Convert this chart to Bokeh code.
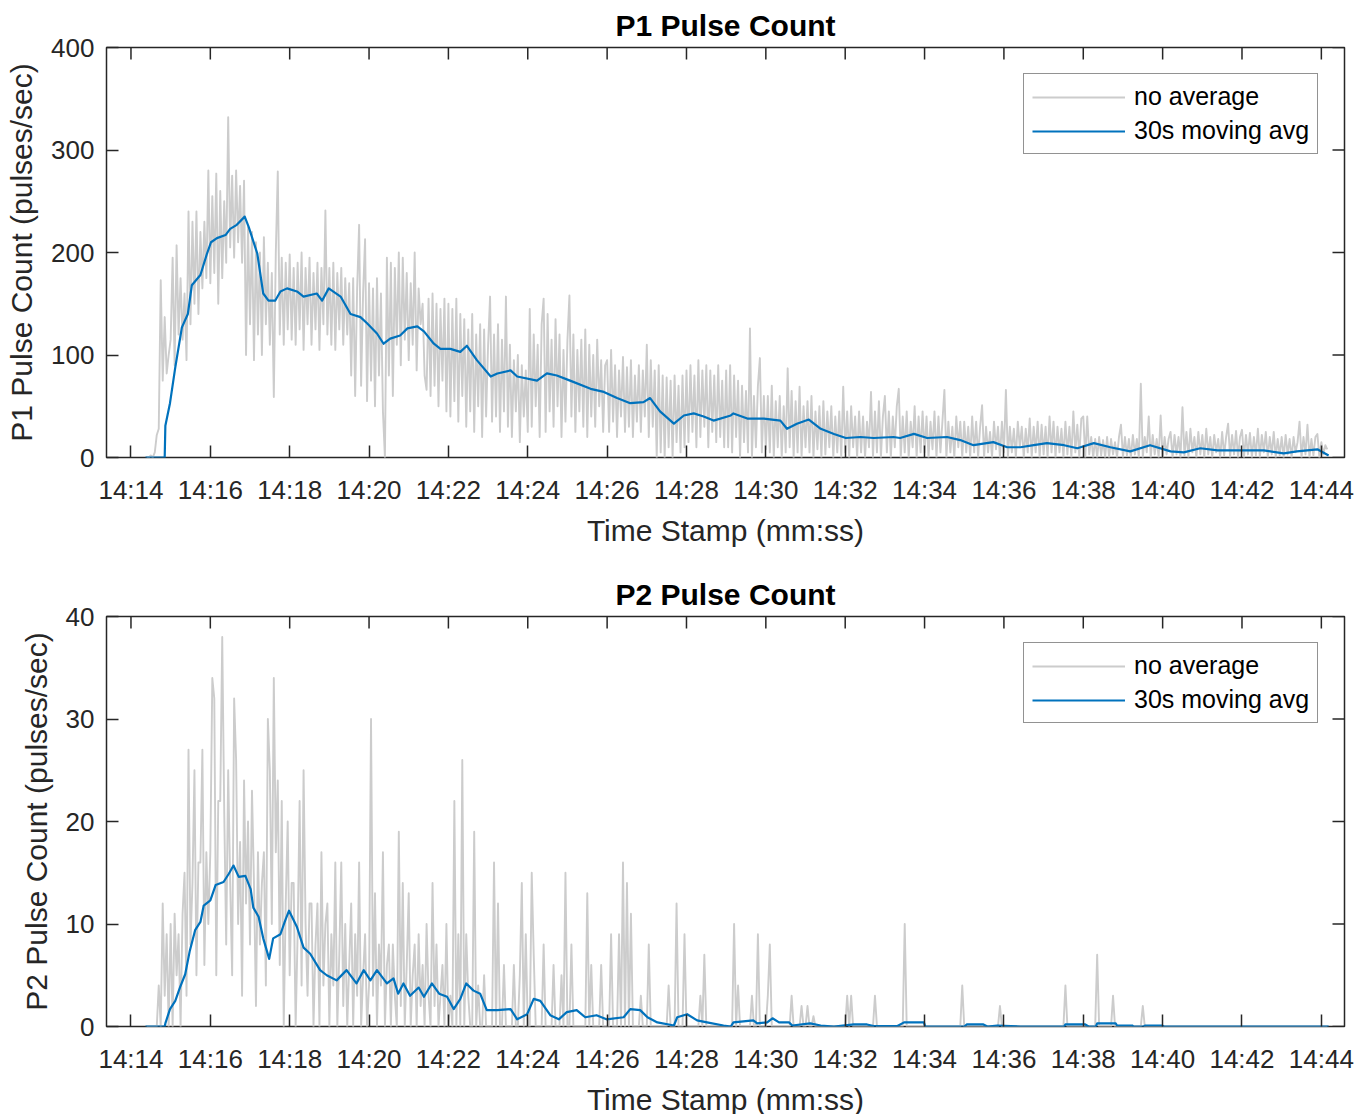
import math
from bokeh.plotting import figure
from bokeh.models import Range1d, FixedTicker, Legend, LegendItem
from bokeh.layouts import column
from bokeh.embed import file_html
from bokeh.resources import INLINE

# ---------------- data ----------------
# x in seconds after 14:14:00
TICK_SECONDS = [0, 120, 240, 360, 480, 600, 720, 840, 960, 1080, 1200, 1320, 1440, 1560, 1680, 1800]
TICK_LABELS = ["14:14", "14:16", "14:18", "14:20", "14:22", "14:24", "14:26", "14:28",
               "14:30", "14:32", "14:34", "14:36", "14:38", "14:40", "14:42", "14:44"]
X_LIMITS = [-37, 1835]

RAW_T0 = 24      # first raw sample (s after 14:14:00)
RAW_DT = 3       # sample spacing (s)

P1_RAW = [
    0, 0, 2, 0, 5, 22, 28, 173, 75, 137, 82, 100,
    115, 195, 90, 207, 120, 175, 115, 160, 95, 240, 130, 230, 150, 240, 140, 220, 165, 230, 175, 280,
    170, 255, 180, 277, 150, 260, 175, 250, 190, 332, 205, 275, 195, 280, 210, 265, 190, 270, 100, 225,
    130, 220, 95, 210, 120, 200, 100, 215, 130, 190, 110, 180, 59, 200, 279, 120, 195, 110, 190, 125,
    198, 115, 185, 110, 190, 125, 200, 105, 185, 130, 195, 110, 180, 125, 190, 105, 185, 130, 241, 120,
    185, 110, 190, 105, 180, 125, 185, 110, 175, 120, 170, 80, 175, 60, 165, 227, 70, 160, 213, 55,
    170, 75, 165, 50, 175, 80, 160, 45, 0, 195, 80, 190, 60, 185, 110, 200, 90, 195, 115, 180,
    95, 170, 110, 200, 85, 165, 130, 150, 80, 66, 155, 60, 160, 70, 150, 50, 145, 75, 155, 45,
    150, 40, 145, 55, 155, 35, 140, 60, 135, 30, 125, 45, 140, 25, 120, 50, 130, 20, 125, 40,
    110, 157, 35, 120, 40, 130, 25, 115, 45, 157, 30, 110, 20, 95, 45, 100, 15, 90, 40, 85,
    25, 145, 30, 120, 50, 110, 20, 130, 155, 25, 140, 45, 115, 30, 135, 50, 120, 20, 105, 35,
    115, 158, 40, 120, 25, 105, 45, 115, 30, 125, 20, 110, 40, 100, 30, 115, 50, 95, 25, 90,
    95, 25, 105, 35, 90, 20, 85, 40, 98, 25, 88, 30, 95, 20, 80, 35, 90, 25, 85, 40,
    110, 20, 95, 30, 85, 0, 90, 5, 80, 0, 78, 10, 75, 0, 80, 15, 70, 5, 80, 10,
    85, 15, 90, 25, 80, 10, 95, 20, 85, 30, 90, 10, 85, 25, 80, 15, 90, 20, 75, 10,
    85, 10, 90, 5, 80, 20, 75, 0, 70, 15, 65, 5, 126, 0, 60, 10, 70, 97, 5, 60,
    8, 60, 5, 70, 0, 55, 10, 60, 0, 50, 5, 87, 10, 65, 0, 55, 5, 69, 0, 50,
    10, 55, 5, 60, 0, 45, 8, 50, 0, 55, 3, 45, 10, 50, 0, 40, 5, 45, 0, 69,
    5, 45, 0, 50, 10, 40, 0, 45, 5, 40, 0, 35, 10, 64, 0, 45, 5, 55, 0, 40,
    60, 5, 45, 0, 40, 10, 50, 67, 0, 40, 5, 45, 0, 35, 10, 50, 0, 40, 5, 45,
    5, 40, 0, 35, 8, 45, 0, 40, 5, 35, 66, 0, 35, 5, 30, 0, 40, 10, 35, 0,
    35, 5, 30, 0, 40, 5, 35, 0, 30, 51, 0, 30, 5, 25, 0, 35, 8, 30, 0, 35,
    5, 66, 0, 30, 5, 28, 0, 35, 10, 30, 0, 28, 5, 38, 0, 30, 5, 35, 0, 32,
    3, 30, 0, 40, 5, 35, 0, 30, 5, 28, 0, 35, 3, 30, 0, 45, 5, 32, 0, 38,
    40, 0, 40, 3, 20, 0, 18, 0, 20, 2, 17, 0, 20, 0, 18, 3, 15, 0, 20, 32,
    0, 20, 2, 18, 0, 22, 3, 18, 0, 72, 0, 20, 5, 40, 0, 22, 3, 18, 0, 41,
    0, 20, 3, 18, 25, 0, 22, 3, 20, 0, 49, 2, 25, 0, 28, 5, 20, 0, 25, 3,
    22, 0, 28, 3, 20, 0, 22, 5, 18, 0, 25, 2, 20, 33, 0, 22, 3, 26, 0, 20,
    27, 0, 22, 3, 24, 0, 20, 2, 28, 0, 22, 5, 25, 0, 20, 3, 25, 0, 18, 2,
    20, 0, 22, 3, 18, 0, 20, 5, 15, 35, 0, 20, 3, 32, 0, 18, 2, 20, 23, 0,
    15, 3, 12, 8,
]

P2_RAW = [
    0, 0, 0, 0, 0, 0, 4, 0, 12, 3, 9, 0,
    10, 0, 11, 5, 9, 0, 11, 15, 3, 27, 8, 14, 25, 5, 16, 16, 27, 6, 17, 10,
    17, 34, 32, 5, 22, 22, 38, 21, 8, 25, 14, 5, 32, 26, 10, 18, 3, 24, 12, 20,
    8, 23, 14, 2, 17, 8, 14, 17, 4, 30, 25, 10, 34, 17, 24, 6, 22, 0, 12, 20,
    5, 14, 14, 0, 9, 22, 4, 25, 10, 3, 12, 12, 0, 8, 12, 0, 17, 4, 10, 12,
    0, 9, 4, 16, 0, 7, 16, 2, 10, 0, 6, 12, 0, 9, 3, 16, 0, 5, 9, 0,
    4, 30, 3, 13, 0, 8, 4, 17, 0, 6, 8, 0, 8, 3, 0, 19, 2, 14, 0, 6,
    13, 0, 5, 8, 0, 9, 2, 6, 0, 10, 3, 0, 14, 2, 8, 0, 3, 6, 0, 10,
    0, 3, 0, 22, 0, 9, 0, 26, 0, 9, 3, 0, 0, 19, 0, 4, 0, 0, 5, 0,
    0, 0, 0, 16, 0, 12, 0, 0, 6, 0, 0, 0, 0, 6, 0, 0, 5, 14, 0, 9,
    0, 0, 15, 7, 0, 0, 0, 0, 8, 0, 0, 0, 0, 6, 0, 0, 0, 5, 0, 15,
    0, 0, 8, 0, 0, 0, 0, 0, 0, 0, 13, 0, 6, 0, 0, 0, 0, 6, 0, 0,
    0, 0, 9, 0, 0, 0, 9, 0, 16, 0, 14, 0, 11, 0, 0, 0, 0, 3, 0, 0,
    0, 8, 0, 0, 0, 0, 0, 0, 0, 0, 0, 4, 0, 0, 0, 12, 0, 0, 0, 9,
    0, 0, 0, 0, 0, 0, 0, 3, 0, 7, 0, 0, 0, 0, 0, 0, 0, 0, 0, 0,
    0, 0, 0, 0, 10, 0, 4, 0, 0, 0, 0, 0, 0, 3, 0, 0, 9, 0, 0, 0,
    0, 3, 8, 0, 0, 0, 0, 0, 0, 0, 0, 0, 0, 3, 0, 0, 0, 0, 2, 0,
    0, 2, 0, 0, 1, 0, 0, 0, 0, 0, 0, 0, 0, 0, 0, 0, 0, 0, 0, 0,
    0, 3, 0, 3, 0, 0, 0, 0, 0, 0, 0, 0, 0, 0, 0, 3, 0, 0, 0, 0,
    0, 0, 0, 0, 0, 0, 0, 0, 0, 0, 10, 0, 0, 0, 0, 0, 0, 0, 0, 0,
    0, 0, 0, 0, 0, 0, 0, 0, 0, 0, 0, 0, 0, 0, 0, 0, 0, 0, 0, 4,
    0, 0, 0, 0, 0, 0, 0, 0, 0, 0, 0, 0, 0, 0, 0, 0, 0, 0, 2, 0,
    0, 0, 0, 0, 0, 0, 0, 0, 0, 0, 0, 0, 0, 0, 0, 0, 0, 0, 0, 0,
    0, 0, 0, 0, 0, 0, 0, 0, 0, 0, 0, 4, 0, 0, 0, 0, 0, 0, 0, 0,
    0, 0, 0, 0, 0, 0, 0, 7, 0, 0, 0, 0, 0, 0, 0, 3, 0, 0, 0, 0,
    0, 0, 0, 0, 0, 0, 0, 0, 0, 0, 2, 0, 0, 0, 0, 0, 0, 0, 0, 0,
    0, 0, 0, 0, 0, 0, 0, 0, 0, 0, 0, 0, 0, 0, 0, 0, 0, 0, 0, 0,
    0, 0, 0, 0, 0, 0, 0, 0, 0, 0, 0, 0, 0, 0, 0, 0, 0, 0, 0, 0,
    0, 0, 0, 0, 0, 0, 0, 0, 0, 0, 0, 0, 0, 0, 0, 0, 0, 0, 0, 0,
    0, 0, 0, 0, 0, 0, 0, 0, 0, 0, 0, 0, 0, 0, 0, 0, 0, 0, 0, 0,
    0, 0, 0, 0,
]

P1_AVG_T = [22, 51, 52, 59, 67, 77, 86, 92, 105, 115, 121, 130, 143, 150, 160, 172, 178, 191,
            200, 208, 218, 226, 236, 251, 261, 281, 289, 299, 317, 332, 347, 357, 372, 382,
            392, 407, 418, 433, 443, 458, 468, 483, 498, 508, 523, 544, 554, 574, 584, 614,
            629, 644, 664, 695, 715, 735, 755, 775, 785, 800, 821, 836, 851, 866, 881, 907,
            911, 932, 957, 982, 992, 1007, 1025, 1043, 1063, 1081, 1103, 1123, 1153, 1163,
            1184, 1204, 1234, 1254, 1274, 1304, 1325, 1345, 1365, 1385, 1411, 1431, 1456,
            1481, 1511, 1541, 1572, 1592, 1617, 1643, 1673, 1713, 1743, 1763, 1794, 1811]
P1_AVG = [0, 0, 31, 53, 88, 127, 140, 168, 178, 199, 210, 214, 217, 223, 227, 235, 225, 199,
          160, 153, 153, 162, 165, 162, 157, 160, 153, 165, 157, 140, 137, 131, 121, 111,
          116, 119, 126, 128, 123, 111, 106, 106, 103, 109, 95, 79, 82, 85, 79, 75,
          82, 80, 75, 67, 64, 58, 53, 54, 58, 45, 33, 41, 43, 40, 36, 41,
          43, 38, 38, 36, 28, 33, 37, 28, 23, 19, 20, 19, 20, 19,
          23, 19, 20, 17, 12, 15, 10, 10, 12, 14, 12, 9, 14,
          10, 6, 12, 6, 5, 9, 7, 7, 7, 4, 6, 8, 2]

P2_AVG_T = [22, 51, 52, 59, 67, 74, 82, 89, 97, 105, 110, 120, 128, 140, 148, 155, 163, 173,
            181, 185, 193, 200, 209, 215, 226, 233, 239, 251, 261, 271, 286, 296, 311, 326,
            341, 352, 362, 372, 387, 397, 404, 412, 422, 435, 443, 455, 466, 478, 488, 498,
            507, 518, 528, 538, 554, 574, 584, 599, 609, 619, 634, 647, 659, 674, 687, 704,
            719, 745, 755, 770, 781, 796, 821, 826, 841, 856, 871, 896, 907, 911, 941, 947,
            962, 970, 980, 995, 1000, 1027, 1043, 1063, 1093, 1113, 1123, 1159, 1169, 1199,
            1201, 1260, 1264, 1289, 1295, 1310, 1345, 1411, 1413, 1443, 1448, 1459, 1461,
            1489, 1491, 1514, 1516, 1531, 1534, 1559, 1562, 1811]
P2_AVG = [0, 0, 0.3, 1.7, 2.5, 3.8, 5.1, 7.4, 9.4, 10.2, 11.8, 12.3, 13.8, 14.1, 14.9, 15.7, 14.6, 14.7,
          13.4, 11.6, 10.7, 8.6, 6.6, 8.6, 9.0, 10.3, 11.3, 9.7, 7.7, 7.1, 5.5, 5.0, 4.5, 5.5,
          4.2, 5.5, 4.5, 5.5, 4.2, 4.7, 3.2, 4.2, 3.0, 3.8, 2.9, 4.2, 3.2, 2.9, 1.7, 2.7,
          4.2, 3.5, 3.2, 1.6, 1.6, 1.7, 0.7, 1.2, 2.7, 2.5, 1.1, 0.7, 1.4, 1.6, 0.9, 1.1,
          0.7, 0.9, 1.7, 1.6, 0.9, 0.4, 0.1, 0.9, 1.2, 0.6, 0.4, 0.1, 0, 0.4, 0.6, 0.3,
          0.4, 0.8, 0.4, 0.4, 0.1, 0.3, 0.1, 0, 0.2, 0.2, 0.05, 0.05, 0.4, 0.4,
          0, 0, 0.2, 0.2, 0, 0.1, 0, 0, 0.2, 0.2, 0, 0, 0.3,
          0.3, 0.1, 0.1, 0, 0, 0.1, 0.1, 0, 0]

P1_YTICKS = [0, 100, 200, 300, 400]
P2_YTICKS = [0, 10, 20, 30, 40]

SERIES_NAMES = ["no average", "30s moving avg"]

# ---------------- styling ----------------
FONT = "Liberation Sans"
AX = "#262626"
GRAY = "#CCCCCC"
BLUE = "#0072BD"
TICK_LEN = 12


def style_axis(ax, ticks):
    ax.ticker = FixedTicker(ticks=ticks)
    ax.axis_line_color = None
    ax.major_tick_in = TICK_LEN
    ax.major_tick_out = 0
    ax.major_tick_line_color = AX
    ax.major_tick_line_width = 1.5
    ax.minor_tick_line_color = None
    ax.major_label_text_font = FONT
    ax.major_label_text_font_size = "26px"
    ax.major_label_text_color = AX
    ax.axis_label_text_font = FONT
    ax.axis_label_text_font_size = "30px"
    ax.axis_label_text_font_style = "normal"
    ax.axis_label_text_color = AX


def make_fig(title, ylabel, ymax, yticks, raw, avg_t, avg_v, top, bottom):
    p = figure(frame_width=1238, frame_height=410,
               x_range=Range1d(*X_LIMITS), y_range=Range1d(0, ymax),
               output_backend="svg", toolbar_location=None,
               min_border_left=106, min_border_right=26,
               min_border_top=top, min_border_bottom=bottom,
               background_fill_color="white", border_fill_color="white")
    p.title.text = title
    p.title.align = "center"
    p.title.text_font = FONT
    p.title.text_font_size = "30px"
    p.title.text_font_style = "bold"
    p.title.text_color = "#000000"
    p.title.standoff = 12
    p.xgrid.visible = False
    p.ygrid.visible = False
    p.outline_line_color = AX
    p.outline_line_width = 1.5
    p.outline_line_alpha = 1.0

    xa = p.xaxis[0]
    style_axis(xa, TICK_SECONDS)
    xa.major_label_overrides = {t: lab for t, lab in zip(TICK_SECONDS, TICK_LABELS)}
    xa.axis_label = "Time Stamp (mm:ss)"
    xa.major_label_standoff = 17
    xa.axis_label_standoff = 6

    ya = p.yaxis[0]
    style_axis(ya, yticks)
    ya.axis_label = ylabel
    ya.major_label_standoff = 12
    ya.axis_label_standoff = 10

    # box ticks on the top and right edges (MATLAB "box on" look)
    p.ray(x=TICK_SECONDS, y=[ymax] * len(TICK_SECONDS), length=TICK_LEN, length_units="screen",
          angle=-math.pi / 2, line_color=AX, line_width=1.5)
    p.ray(x=[X_LIMITS[1]] * len(yticks), y=yticks, length=TICK_LEN, length_units="screen",
          angle=math.pi, line_color=AX, line_width=1.5)

    raw_t = [RAW_T0 + RAW_DT * i for i in range(len(raw))]
    r1 = p.line(raw_t, raw, line_color=GRAY, line_width=1.9, line_join="round")
    r2 = p.line(avg_t, avg_v, line_color=BLUE, line_width=2.2, line_join="round")

    legend = Legend(items=[LegendItem(label=SERIES_NAMES[0], renderers=[r1]),
                           LegendItem(label=SERIES_NAMES[1], renderers=[r2])],
                    location=(917, 303))
    legend.label_text_font = FONT
    legend.label_text_font_size = "25px"
    legend.label_text_color = "#000000"
    legend.border_line_color = AX
    legend.border_line_width = 1.5
    legend.background_fill_color = "white"
    legend.background_fill_alpha = 1.0
    legend.glyph_width = 93
    legend.glyph_height = 28
    legend.label_height = 28
    legend.label_standoff = 9
    legend.spacing = 5
    legend.padding = 8
    legend.margin = 0
    p.add_layout(legend)
    return p


p1 = make_fig("P1 Pulse Count", "P1 Pulse Count (pulses/sec)", 400, P1_YTICKS,
              P1_RAW, P1_AVG_T, P1_AVG, top=47, bottom=108)
p2 = make_fig("P2 Pulse Count", "P2 Pulse Count (pulses/sec)", 40, P2_YTICKS,
              P2_RAW, P2_AVG_T, P2_AVG, top=51, bottom=88)

page = column(p1, p2, spacing=0)
open("out.html", "w").write(file_html(page, INLINE))
